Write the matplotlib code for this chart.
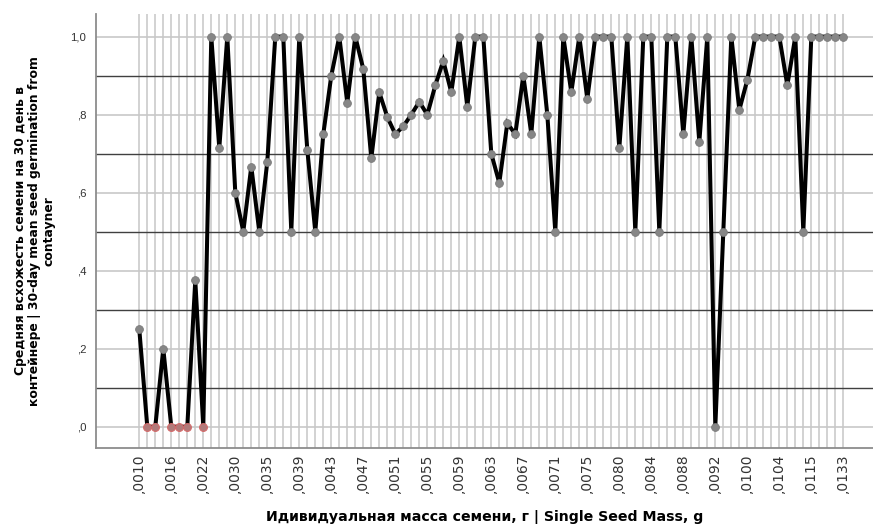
import matplotlib
matplotlib.use("Agg")
import matplotlib.pyplot as plt
import numpy as np

# ---- data ----
germination = [0.25, 0, 0, 0.2, 0, 0, 0, 0.375, 0, 1.0,
               0.714, 1.0, 0.6, 0.5, 0.667, 0.5, 0.679, 1.0, 1.0, 0.5,
               1.0, 0.71, 0.5, 0.75, 0.9, 1.0, 0.83, 1.0, 0.917, 0.688,
               0.857, 0.794, 0.75, 0.77, 0.8, 0.833, 0.8, 0.875, 0.938, 0.857,
               1.0, 0.82, 1.0, 1.0, 0.7, 0.625, 0.778, 0.75, 0.9, 0.75,
               1.0, 0.8, 0.5, 1.0, 0.857, 1.0, 0.84, 1.0, 1.0, 1.0,
               0.714, 1.0, 0.5, 1.0, 1.0, 0.5, 1.0, 1.0, 0.75, 1.0,
               0.73, 1.0, 0.0, 0.5, 1.0, 0.812, 0.889, 1.0, 1.0, 1.0,
               1.0, 0.875, 1.0, 0.5, 1.0, 1.0, 1.0, 1.0, 1.0]
highlighted = [1, 2, 4, 5, 6, 8]   # points drawn in red
tick_labels = [",0010", ",0016", ",0022", ",0030", ",0035", ",0039", ",0043",
               ",0047", ",0051", ",0055", ",0059", ",0063", ",0067", ",0071",
               ",0075", ",0080", ",0084", ",0088", ",0092", ",0100", ",0104",
               ",0115", ",0133"]
label_step = 4
y_major = [0.0, 0.2, 0.4, 0.6, 0.8, 1.0]
y_major_labels = [",0", ",2", ",4", ",6", ",8", "1,0"]
y_minor = [0.1, 0.3, 0.5, 0.7, 0.9]

plt.rcParams['font.family'] = ['Liberation Sans', 'DejaVu Sans']

fig = plt.figure(figsize=(8.73, 5.30), dpi=100)
ax = fig.add_axes([96/873, 82/530, 777/873, 434/530])

n = len(germination)
x = np.arange(n)
y = np.array(germination)

ax.plot(x, y, color='black', linewidth=2.9, solid_joinstyle='miter', zorder=3)
mask = np.ones(n, bool)
mask[highlighted] = False
ax.plot(x[mask], y[mask], linestyle='none', marker='o', markersize=5.6,
        markerfacecolor='#868686', markeredgecolor='#7a7a7a', markeredgewidth=0.6, zorder=4)
ax.plot(x[highlighted], y[highlighted], linestyle='none', marker='o', markersize=5.6,
        markerfacecolor='#b07a7a', markeredgecolor='#d46a6a', markeredgewidth=0.8, zorder=4)

ax.set_xlim(-5.41, 91.71)
ax.set_ylim(-0.0546, 1.058)

ax.set_xticks(np.arange(0, n, label_step))
ax.set_xticklabels(tick_labels, rotation=90, fontsize=10, color='#333333',
                   family='DejaVu Sans')
ax.set_xticks(x, minor=True)
ax.set_yticks(y_major)
ax.set_yticklabels(y_major_labels, fontsize=8.2, color='#333333')
ax.set_yticks(y_minor, minor=True)
ax.tick_params(axis='both', which='both', length=0)
ax.tick_params(axis='x', pad=4)
ax.tick_params(axis='y', pad=7)

ax.grid(True, axis='x', which='both', color='#d2d2d2', linewidth=1.4, zorder=0)
ax.grid(True, axis='y', which='major', color='#c8c8c8', linewidth=1.2, zorder=1)
ax.grid(True, axis='y', which='minor', color='#404040', linewidth=1.0, zorder=1)
ax.set_axisbelow(True)

for s in ['top', 'right']:
    ax.spines[s].set_visible(False)
for s in ['left', 'bottom']:
    ax.spines[s].set_color('#8c8c8c')
    ax.spines[s].set_linewidth(1.3)

ax.set_xlabel("Идивидуальная масса семени, г | Single Seed Mass, g",
              fontsize=10.2, fontweight='bold', labelpad=12, family='DejaVu Sans')
ax.set_ylabel("Средняя всхожесть семени на 30 день в\nконтейнере | 30-day mean seed germination from\ncontayner",
              fontsize=8.9, fontweight='bold', labelpad=11, linespacing=1.12,
              family='DejaVu Sans')

fig.savefig("out.png", dpi=100)
